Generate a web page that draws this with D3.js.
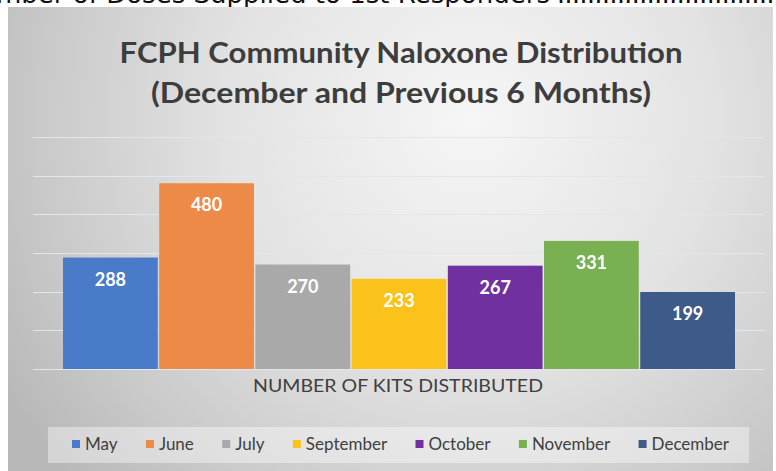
<!DOCTYPE html>
<meta charset="utf-8">
<style type="text/css">
    body {
        margin: 0;
        background: #fff;
    }
    svg {
        display: block;
    }
    text {
        font-family: Lato, "Open Sans", sans-serif;
    }
</style>
<body>
<script src="https://cdn.jsdelivr.net/npm/d3@7"></script>
<script>
// chart data
var months = ["May", "June", "July", "September", "October", "November", "December"];
var kits = [288, 480, 270, 233, 267, 331, 199];
var colors = ["#4a7bc8", "#ee8a48", "#a9a9a9", "#fcc21c", "#7030a0", "#78b052", "#3d5a88"];
var yTicks = [0, 100, 200, 300, 400, 500, 600];
var title = ["FCPH Community Naloxone Distribution", "(December and Previous 6 Months)"];
var axisLabel = "NUMBER OF KITS DISTRIBUTED";

var width = 776, height = 471;

var svg = d3.select("body").append("svg")
    .attr("width", width)
    .attr("height", height);

// bit of the document text above the chart, cut off by the crop
svg.append("text")
    .attr("x", -40)
    .attr("y", 3)
    .attr("textLength", 590)
    .attr("lengthAdjust", "spacingAndGlyphs")
    .style("font-family", "'DejaVu Sans', sans-serif")
    .style("font-size", "25px")
    .attr("fill", "#111")
    .text("Number of Doses Supplied to 1st Responders");
svg.append("text")
    .attr("x", 557)
    .attr("y", 3)
    .attr("textLength", 225)
    .attr("lengthAdjust", "spacing")
    .style("font-family", "'DejaVu Sans', sans-serif")
    .style("font-size", "25px")
    .attr("fill", "#111")
    .text("..............................");

// panel background
var defs = svg.append("defs");
var grad = defs.append("radialGradient")
    .attr("id", "bg")
    .attr("gradientUnits", "userSpaceOnUse")
    .attr("cx", 470).attr("cy", 120).attr("r", 540);
grad.append("stop").attr("offset", 0).attr("stop-color", "#f6f6f6");
grad.append("stop").attr("offset", 0.45).attr("stop-color", "#e3e3e3");
grad.append("stop").attr("offset", 0.8).attr("stop-color", "#c9c9c9");
grad.append("stop").attr("offset", 1).attr("stop-color", "#b8b8b8");

svg.append("rect")
    .attr("x", 8).attr("y", 7)
    .attr("width", 765).attr("height", 470)
    .attr("fill", "url(#bg)");

// title
svg.selectAll("text.title")
    .data(title)
    .enter().append("text")
    .attr("class", "title")
    .attr("x", 401)
    .attr("y", function(d, i) { return 63 + i * 40; })
    .attr("text-anchor", "middle")
    .attr("textLength", function(d, i) { return i == 0 ? 563 : 500; })
    .attr("lengthAdjust", "spacingAndGlyphs")
    .style("font-size", "28px")
    .style("font-weight", "bold")
    .attr("fill", "#3d3d3d")
    .text(function(d) { return d; });

// scales
var plotLeft = 33, plotRight = 765;
var y = d3.scaleLinear()
    .domain([0, 600])
    .range([369, 136.8]);

var x = d3.scaleBand()
    .domain(months)
    .range([63, 735])
    .paddingInner(0.015);

// gridlines
svg.append("g")
    .selectAll("line")
    .data(yTicks)
    .enter().append("line")
    .attr("x1", plotLeft)
    .attr("x2", plotRight)
    .attr("y1", function(d) { return Math.round(y(d)) + 0.5; })
    .attr("y2", function(d) { return Math.round(y(d)) + 0.5; })
    .attr("stroke", "#e2e7ef")
    .attr("stroke-width", 1);

// bars
var data = months.map(function(m, i) { return {month: m, value: kits[i], color: colors[i]}; });

svg.append("g")
    .selectAll("rect")
    .data(data)
    .enter().append("rect")
    .attr("x", function(d) { return x(d.month); })
    .attr("y", function(d) { return y(d.value); })
    .attr("width", x.bandwidth())
    .attr("height", function(d) { return y(0) - y(d.value); })
    .attr("fill", function(d) { return d.color; });

// value labels inside the bars
svg.append("g")
    .selectAll("text")
    .data(data)
    .enter().append("text")
    .attr("x", function(d) { return x(d.month) + x.bandwidth() / 2; })
    .attr("y", function(d) { return y(d.value) + 28; })
    .attr("text-anchor", "middle")
    .style("font-size", "18px")
    .style("font-weight", "bold")
    .attr("fill", "#fff")
    .text(function(d) { return d.value; });

// category axis label
svg.append("text")
    .attr("x", 398)
    .attr("y", 392)
    .attr("text-anchor", "middle")
    .attr("textLength", 290)
    .attr("lengthAdjust", "spacingAndGlyphs")
    .style("font-size", "18px")
    .attr("fill", "#404040")
    .text(axisLabel);

// legend
svg.append("rect")
    .attr("x", 48).attr("y", 427)
    .attr("width", 701).attr("height", 36)
    .attr("fill", "#fff")
    .attr("fill-opacity", 0.4);

var legend = svg.append("g");
var items = legend.selectAll("g")
    .data(data)
    .enter().append("g");

items.append("rect")
    .attr("width", 8).attr("height", 8)
    .attr("y", 440)
    .attr("fill", function(d) { return d.color; });

items.append("text")
    .attr("y", 450)
    .style("font-size", "17px")
    .attr("fill", "#404040")
    .text(function(d) { return d.month; });

// spread the entries so they run from 72 to 729 like the original
var widths = [];
items.select("text").each(function() { widths.push(this.getComputedTextLength()); });
var legendStart = 72, legendEnd = 729, markGap = 5;
var used = d3.sum(widths) + data.length * (8 + markGap);
var gap = (legendEnd - legendStart - used) / (data.length - 1);
var pos = legendStart;
items.each(function(d, i) {
    var g = d3.select(this);
    g.select("rect").attr("x", pos);
    g.select("text").attr("x", pos + 8 + markGap);
    pos += 8 + markGap + widths[i] + gap;
});
</script>
</body>
